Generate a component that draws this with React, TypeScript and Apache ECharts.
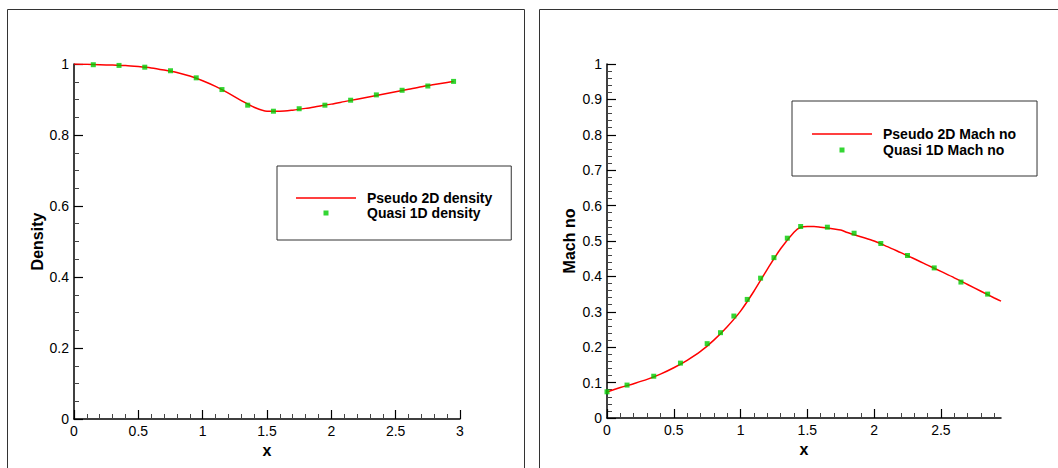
import React, { useEffect, useRef } from "react";
import * as echarts from "echarts";

// ---------- Data ----------
// Left panel: density
const densityLineX = [0, 0.1, 0.2, 0.3, 0.4, 0.5, 0.6, 0.7, 0.8, 0.9, 1.0, 1.1, 1.2, 1.3, 1.4, 1.5, 1.6, 1.7, 1.8, 1.9, 2.0, 2.1, 2.2, 2.3, 2.4, 2.5, 2.6, 2.7, 2.8, 2.9, 2.95];
const densityLineY = [1.0, 0.999, 0.998, 0.997, 0.996, 0.993, 0.989, 0.983, 0.976, 0.966, 0.953, 0.937, 0.918, 0.897, 0.878, 0.867, 0.867, 0.87, 0.875, 0.881, 0.887, 0.894, 0.901, 0.908, 0.915, 0.922, 0.929, 0.936, 0.942, 0.948, 0.951];
const densityPointX = [0.15, 0.35, 0.55, 0.75, 0.95, 1.15, 1.35, 1.55, 1.75, 1.95, 2.15, 2.35, 2.55, 2.75, 2.95];
const densityPointY = [0.998, 0.996, 0.991, 0.981, 0.961, 0.928, 0.884, 0.867, 0.874, 0.884, 0.898, 0.913, 0.926, 0.938, 0.951];

// Right panel: Mach number
const machLineX = [0, 0.1, 0.2, 0.3, 0.4, 0.5, 0.6, 0.7, 0.8, 0.9, 1.0, 1.1, 1.2, 1.3, 1.4, 1.45, 1.5, 1.55, 1.6, 1.7, 1.75, 1.8, 1.9, 2.0, 2.1, 2.2, 2.3, 2.4, 2.5, 2.6, 2.7, 2.8, 2.9, 2.95];
const machLineY = [0.073, 0.086, 0.097, 0.109, 0.124, 0.142, 0.163, 0.188, 0.22, 0.258, 0.302, 0.358, 0.42, 0.478, 0.525, 0.539, 0.541, 0.541, 0.539, 0.534, 0.531, 0.524, 0.512, 0.5, 0.484, 0.467, 0.45, 0.432, 0.414, 0.396, 0.377, 0.358, 0.339, 0.33];
const machPointX = [0, 0.15, 0.35, 0.55, 0.75, 0.85, 0.95, 1.05, 1.15, 1.25, 1.35, 1.45, 1.65, 1.85, 2.05, 2.25, 2.45, 2.65, 2.85];
const machPointY = [0.074, 0.093, 0.118, 0.155, 0.21, 0.241, 0.288, 0.335, 0.395, 0.453, 0.508, 0.541, 0.539, 0.522, 0.493, 0.459, 0.424, 0.384, 0.35];

// Tick values for the right panel's x axis
const machMajorTicks = [0, 0.5, 1, 1.5, 2, 2.5];
const machMinorTicks = [0.1, 0.2, 0.3, 0.4, 0.6, 0.7, 0.8, 0.9, 1.1, 1.2, 1.3, 1.4, 1.6, 1.7, 1.8, 1.9, 2.1, 2.2, 2.3, 2.4, 2.6, 2.7, 2.8, 2.9];

const seriesNames = {
  densityLine: "Pseudo 2D density",
  densityPoints: "Quasi 1D density",
  machLine: "Pseudo 2D Mach no",
  machPoints: "Quasi 1D Mach no",
};

const zip = (xs: number[], ys: number[]) => xs.map((x, i) => [x, ys[i]]);

const FONT = "Liberation Sans, Arial, sans-serif";
const RED = "#ff0000";
const GREEN = "#00cc00";
const SQUARE = "path://M0,0L10,0L10,10L0,10Z";
const BAR = "path://M0,0L60,0L60,1.5L0,1.5Z";

export default function App() {
  const ref = useRef<HTMLDivElement>(null);

  useEffect(() => {
    if (!ref.current) return;
    const chart = echarts.init(ref.current, undefined, { renderer: "svg" });

    const axisLine = { show: true, lineStyle: { color: "#000", width: 1.5 } };
    const tickMajor = { show: true, inside: true, length: 9, lineStyle: { color: "#000", width: 1.2 } };
    const tickMinor = { show: true, length: 5, lineStyle: { color: "#444", width: 1 } };
    const labelStyle = { color: "#000", fontSize: 14, fontFamily: FONT, margin: 5 };
    const nameStyle = { color: "#000", fontSize: 16, fontWeight: "bold" as const, fontFamily: FONT };

    const legendBase = {
      orient: "vertical" as const,
      itemWidth: 60,
      itemHeight: 5,
      borderColor: "#333",
      borderWidth: 1,
      backgroundColor: "#fff",
      symbolKeepAspect: true,
      textStyle: { color: "#000", fontSize: 14, fontWeight: "bold" as const, fontFamily: FONT, padding: [0, 0, 0, 6] },
      selectedMode: false,
    };

    const lineSeries = (name: string, xi: number, xs: number[], ys: number[]) => ({
      name,
      type: "line",
      xAxisIndex: xi,
      yAxisIndex: xi === 0 ? 0 : 1,
      data: zip(xs, ys),
      smooth: 0.3,
      symbol: "none",
      showSymbol: false,
      lineStyle: { color: RED, width: 1.5 },
      itemStyle: { color: RED },
      z: 2,
    });
    const pointSeries = (name: string, xi: number, xs: number[], ys: number[]) => ({
      name,
      type: "scatter",
      xAxisIndex: xi,
      yAxisIndex: xi === 0 ? 0 : 1,
      data: zip(xs, ys),
      symbol: SQUARE,
      symbolKeepAspect: true,
      symbolSize: 5,
      itemStyle: { color: GREEN },
      z: 3,
    });

    const lineLegendItem = (name: string) => ({
      name,
      icon: BAR,
      itemStyle: { color: RED, borderWidth: 0 },
      lineStyle: { width: 0, opacity: 0 },
    });
    const pointLegendItem = (name: string) => ({
      name,
      icon: SQUARE,
      itemStyle: { color: GREEN, borderWidth: 0 },
    });

    chart.setOption({
      animation: false,
      backgroundColor: "#fff",
      grid: [
        { left: 74, top: 64, width: 386, height: 355 },
        { left: 607, top: 64, width: 394, height: 354 },
      ],
      xAxis: [
        {
          gridIndex: 0,
          type: "value",
          min: 0,
          max: 3,
          interval: 0.5,
          name: "x",
          nameLocation: "middle",
          nameGap: 16,
          nameTextStyle: nameStyle,
          axisLine,
          axisTick: tickMajor,
          minorTick: { ...tickMinor, splitNumber: 5 },
          axisLabel: labelStyle,
          splitLine: { show: false },
        },
        {
          gridIndex: 1,
          type: "value",
          position: "bottom",
          min: 0,
          max: 2.95,
          name: "x",
          nameLocation: "middle",
          nameGap: 16,
          nameTextStyle: nameStyle,
          axisLine,
          axisTick: { ...tickMajor, customValues: machMajorTicks },
          axisLabel: { ...labelStyle, customValues: machMajorTicks },
          splitLine: { show: false },
        },
        {
          gridIndex: 1,
          type: "value",
          position: "bottom",
          min: 0,
          max: 2.95,
          axisLine: { show: false },
          axisTick: { ...tickMinor, inside: true, customValues: machMinorTicks },
          axisLabel: { show: false },
          splitLine: { show: false },
        },
      ],
      yAxis: [
        {
          gridIndex: 0,
          type: "value",
          min: 0,
          max: 1,
          interval: 0.2,
          name: "Density",
          nameLocation: "middle",
          nameGap: 29,
          nameTextStyle: nameStyle,
          axisLine,
          axisTick: tickMajor,
          minorTick: { ...tickMinor, splitNumber: 4 },
          axisLabel: labelStyle,
          splitLine: { show: false },
        },
        {
          gridIndex: 1,
          type: "value",
          min: 0,
          max: 1,
          interval: 0.1,
          name: "Mach no",
          nameLocation: "middle",
          nameGap: 30,
          nameTextStyle: nameStyle,
          axisLine,
          axisTick: tickMajor,
          minorTick: { ...tickMinor, splitNumber: 5 },
          axisLabel: labelStyle,
          splitLine: { show: false },
        },
      ],
      legend: [
        {
          ...legendBase,
          left: 277,
          top: 166,
          itemGap: 1,
          padding: [25, 19, 20, 19],
          data: [lineLegendItem(seriesNames.densityLine), pointLegendItem(seriesNames.densityPoints)],
        },
        {
          ...legendBase,
          left: 792,
          top: 101,
          itemGap: 2,
          padding: [26, 21, 19, 20],
          data: [lineLegendItem(seriesNames.machLine), pointLegendItem(seriesNames.machPoints)],
        },
      ],
      graphic: [
        {
          type: "rect",
          silent: true,
          z: -10,
          shape: { x: 7.5, y: 9.5, width: 517, height: 480 },
          style: { fill: "none", stroke: "#333", lineWidth: 1 },
        },
        {
          type: "rect",
          silent: true,
          z: -10,
          shape: { x: 539.5, y: 9.5, width: 540, height: 480 },
          style: { fill: "none", stroke: "#333", lineWidth: 1 },
        },
      ],
      series: [
        lineSeries(seriesNames.densityLine, 0, densityLineX, densityLineY),
        pointSeries(seriesNames.densityPoints, 0, densityPointX, densityPointY),
        lineSeries(seriesNames.machLine, 1, machLineX, machLineY),
        pointSeries(seriesNames.machPoints, 1, machPointX, machPointY),
      ],
    });

    return () => chart.dispose();
  }, []);

  return (
    <div
      ref={ref}
      style={{ position: "absolute", left: 0, top: 0, width: 1058, height: 468 }}
    />
  );
}
